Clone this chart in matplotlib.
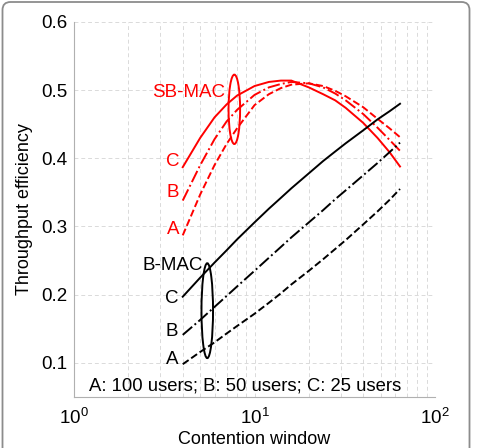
import matplotlib
matplotlib.use("Agg")
import matplotlib.pyplot as plt
from matplotlib.patches import Ellipse, FancyBboxPatch
from matplotlib.transforms import IdentityTransform
from matplotlib.ticker import LogLocator, FixedLocator

plt.rcParams['font.family'] = ['Liberation Sans', 'DejaVu Sans']
plt.rcParams['mathtext.fontset'] = 'custom'
plt.rcParams['mathtext.rm'] = 'Liberation Sans'
plt.rcParams['mathtext.default'] = 'regular'

# contention window values
cw = [4, 5, 6, 7, 8, 10, 12, 14, 16, 20, 24, 28, 32, 40, 48, 56, 64]

# SB-MAC throughput efficiency (A: 100 users, B: 50 users, C: 25 users)
sb_a = [0.287, 0.347, 0.390, 0.421, 0.444, 0.478, 0.494, 0.503, 0.508, 0.510,
        0.506, 0.499, 0.491, 0.475, 0.458, 0.444, 0.431]
sb_b = [0.338, 0.390, 0.428, 0.454, 0.471, 0.493, 0.504, 0.509, 0.512, 0.510,
        0.504, 0.495, 0.485, 0.465, 0.445, 0.427, 0.411]
sb_c = [0.387, 0.430, 0.460, 0.479, 0.492, 0.506, 0.512, 0.514, 0.514, 0.504,
        0.494, 0.485, 0.474, 0.452, 0.430, 0.409, 0.388]

# B-MAC throughput efficiency
b_a = [0.098, 0.116, 0.130, 0.143, 0.154, 0.172, 0.188, 0.202, 0.215, 0.235,
       0.252, 0.267, 0.280, 0.303, 0.322, 0.339, 0.355]
b_b = [0.141, 0.163, 0.182, 0.198, 0.212, 0.235, 0.254, 0.270, 0.284, 0.306,
       0.324, 0.340, 0.353, 0.375, 0.393, 0.409, 0.423]
b_c = [0.197, 0.225, 0.247, 0.265, 0.281, 0.306, 0.326, 0.342, 0.356, 0.378,
       0.396, 0.410, 0.422, 0.441, 0.457, 0.469, 0.480]

fig = plt.figure(figsize=(4.78, 4.48), dpi=100)
ax = fig.add_axes([0.155, 0.114, 0.755, 0.837])

lw = 1.4
ax.plot(cw, sb_c, color='red', lw=lw, ls='-')
ax.plot(cw, sb_b, color='red', lw=lw, ls='-.')
ax.plot(cw, sb_a, color='red', lw=lw, ls='--')
ax.plot(cw, b_c, color='black', lw=lw, ls='-')
ax.plot(cw, b_b, color='black', lw=lw, ls='-.')
ax.plot(cw, b_a, color='black', lw=lw, ls='--')

ax.set_xscale('log')
ax.set_xlim(1, 100)
ax.set_ylim(0.05, 0.6)
ax.yaxis.set_major_locator(FixedLocator([0.1, 0.2, 0.3, 0.4, 0.5, 0.6]))
ax.set_yticklabels(['0.1', '0.2', '0.3', '0.4', '0.5', '0.6'])
ax.xaxis.set_major_locator(LogLocator(base=10))
ax.xaxis.set_minor_locator(LogLocator(base=10, subs=range(2, 10)))
ax.tick_params(which='both', length=0, labelsize=13.5, colors='black')
ax.tick_params(axis='x', pad=8)
ax.tick_params(axis='y', pad=5)

ax.grid(True, which='major', axis='both', ls=(0, (4, 3)), color='#dadada', lw=0.7)
ax.grid(True, which='minor', axis='x', ls=(0, (4, 3)), color='#dadada', lw=0.7)
ax.set_axisbelow(True)
for s in ['top', 'right']:
    ax.spines[s].set_visible(False)
for s in ['left', 'bottom']:
    ax.spines[s].set_color('#b0b0b0')
    ax.spines[s].set_linewidth(0.8)

ax.set_xlabel('Contention window', fontsize=13, labelpad=2)
ax.set_ylabel('Throughput efficiency', fontsize=13, labelpad=6)

fs = 13.5
ax.text(6.87, 0.496, 'SB-MAC', color='red', fontsize=fs, ha='right', va='center')
ax.text(3.82, 0.396, 'C', color='red', fontsize=fs, ha='right', va='center')
ax.text(3.82, 0.350, 'B', color='red', fontsize=fs, ha='right', va='center')
ax.text(3.82, 0.295, 'A', color='red', fontsize=fs, ha='right', va='center')
ax.text(5.16, 0.243, 'B-MAC', color='black', fontsize=fs, ha='right', va='center')
ax.text(3.78, 0.195, 'C', color='black', fontsize=fs, ha='right', va='center')
ax.text(3.78, 0.146, 'B', color='black', fontsize=fs, ha='right', va='center')
ax.text(3.78, 0.105, 'A', color='black', fontsize=fs, ha='right', va='center')
ax.text(8.86, 0.066, 'A: 100 users; B: 50 users; C: 25 users', color='black',
        fontsize=13.3, ha='center', va='center')

ax.add_patch(Ellipse((0.444, 0.767), 0.032, 0.185, transform=ax.transAxes,
                     fill=False, edgecolor='red', lw=1.4))
ax.add_patch(Ellipse((0.369, 0.230), 0.032, 0.253, transform=ax.transAxes,
                     fill=False, edgecolor='black', lw=1.4))

# rounded frame around the figure
frame = FancyBboxPatch((2.5, -20), 467, 466, boxstyle='round,pad=0,rounding_size=8',
                       transform=IdentityTransform(), fill=False,
                       edgecolor='#8c8c8c', lw=1.3)
fig.patches.append(frame)

fig.savefig('out.png', dpi=100)
